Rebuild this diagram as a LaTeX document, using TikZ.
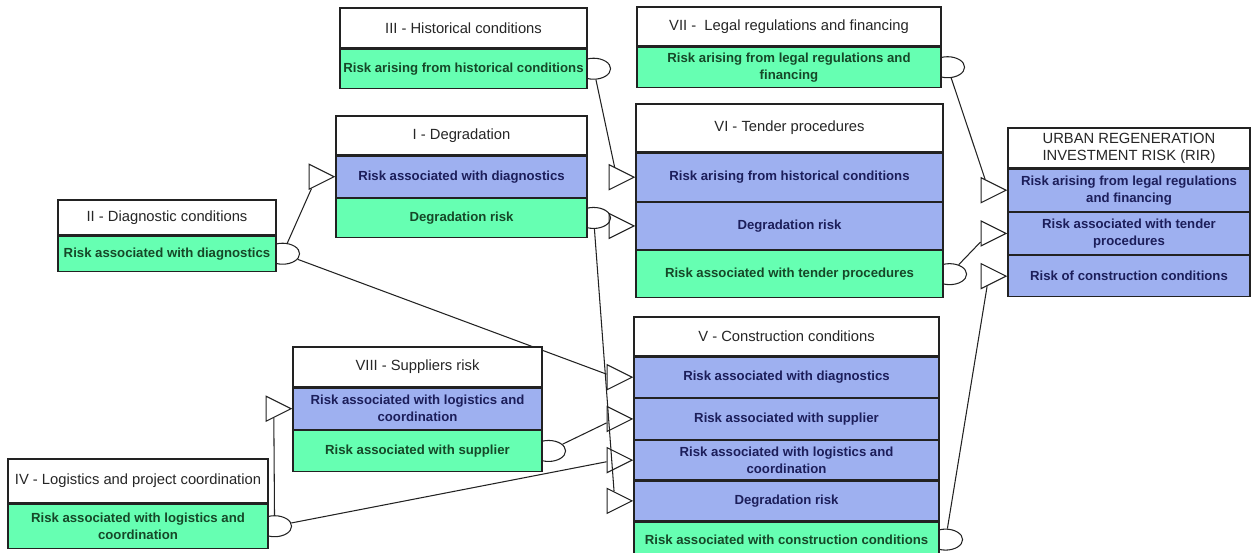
\documentclass[tikz,border=0pt]{standalone}
\usepackage{fontspec}
\setsansfont{Liberation Sans}
\usetikzlibrary{shapes.geometric,positioning,backgrounds}
\definecolor{riskgreen}{RGB}{102,255,178}
\definecolor{riskblue}{RGB}{158,176,240}
\definecolor{textgreen}{RGB}{22,72,40}
\definecolor{textblue}{RGB}{28,30,90}
\definecolor{boxline}{RGB}{34,34,34}

\begin{document}
\begin{tikzpicture}[x=0.02cm, y=-0.02cm,
  titlebox/.style={draw=boxline, line width=0.7pt, fill=white, align=center, inner xsep=0.5pt, inner ysep=1pt, text=black!85, font=\sffamily\fontsize{8.4}{9.6}\selectfont},
  outrow/.style={titlebox, fill=riskgreen, text=textgreen, font=\sffamily\bfseries\fontsize{7.5}{9.6}\selectfont},
  inrow/.style={outrow, fill=riskblue, text=textblue},
  outport/.style={draw=boxline, ellipse, line width=0.6pt, minimum width=0.68cm, minimum height=0.42cm, inner sep=0pt},
  inport/.style={draw=boxline, isosceles triangle, isosceles triangle stretches, line width=0.6pt, minimum width=0.5cm, minimum height=0.5cm, inner sep=0pt, anchor=apex},
  wire/.style={draw=boxline, line width=0.6pt}]
  \useasboundingbox (0,0) rectangle (1254,553);

  % III - Historical conditions
  \node[titlebox, minimum width=4.94cm, minimum height=0.8cm] (hist) at (463.5,28) {III - Historical conditions};
  \node[outrow, minimum width=4.94cm, minimum height=0.78cm, below=0pt of hist] (histout) {Risk arising from historical conditions};

  % VII - Legal regulations
  \node[titlebox, minimum width=6.08cm, minimum height=0.78cm] (legal) at (789,26.5) {VII - \ Legal regulations and financing};
  \node[outrow, minimum width=6.08cm, minimum height=0.8cm, below=0pt of legal] (legalout) {Risk arising from legal regulations and\\financing};

  % I - Degradation
  \node[titlebox, minimum width=5.02cm, minimum height=0.78cm] (degr) at (461.5,135.5) {I - Degradation};
  \node[inrow, minimum width=5.02cm, minimum height=0.82cm, below=0pt of degr] (degrin) {Risk associated with diagnostics};
  \node[outrow, minimum width=5.02cm, minimum height=0.78cm, below=0pt of degrin] (degrout) {Degradation risk};

  % II - Diagnostic conditions
  \node[titlebox, minimum width=4.36cm, minimum height=0.7cm] (diag) at (167,217.5) {II - Diagnostic conditions};
  \node[outrow, minimum width=4.36cm, minimum height=0.7cm, below=0pt of diag] (diagout) {Risk associated with diagnostics};

  % VI - Tender procedures
  \node[titlebox, minimum width=6.14cm, minimum height=0.96cm] (tend) at (789.5,128) {VI - Tender procedures};
  \node[inrow, minimum width=6.14cm, minimum height=0.96cm, below=0pt of tend] (tendin1) {Risk arising from historical conditions};
  \node[inrow, minimum width=6.14cm, minimum height=0.94cm, below=0pt of tendin1] (tendin2) {Degradation risk};
  \node[outrow, minimum width=6.14cm, minimum height=0.94cm, below=0pt of tendin2] (tendout) {Risk associated with tender procedures};

  % Urban regeneration investment risk
  \node[titlebox, minimum width=4.84cm, minimum height=0.8cm] (rir) at (1129,148) {URBAN REGENERATION\\INVESTMENT RISK (RIR)};
  \node[inrow, minimum width=4.84cm, minimum height=0.84cm, below=0pt of rir] (ririn1) {Risk arising from legal regulations\\and financing};
  \node[inrow, minimum width=4.84cm, minimum height=0.84cm, below=0pt of ririn1] (ririn2) {Risk associated with tender\\procedures};
  \node[inrow, minimum width=4.84cm, minimum height=0.82cm, below=0pt of ririn2] (ririn3) {Risk of construction conditions};

  % VIII - Suppliers risk
  \node[titlebox, minimum width=4.98cm, minimum height=0.8cm] (supp) at (417.5,367) {VIII - Suppliers risk};
  \node[inrow, minimum width=4.98cm, minimum height=0.82cm, below=0pt of supp] (suppin) {Risk associated with logistics and\\coordination};
  \node[outrow, minimum width=4.98cm, minimum height=0.82cm, below=0pt of suppin] (suppout) {Risk associated with supplier};

  % IV - Logistics and project coordination
  \node[titlebox, minimum width=5.2cm, minimum height=0.88cm] (logi) at (138,481) {IV - Logistics and project coordination};
  \node[outrow, minimum width=5.2cm, minimum height=0.88cm, below=0pt of logi] (logiout) {Risk associated with logistics and\\coordination};

  % V - Construction conditions
  \node[titlebox, minimum width=6.1cm, minimum height=0.78cm] (cons) at (786.5,336.5) {V - Construction conditions};
  \node[inrow, minimum width=6.1cm, minimum height=0.8cm, below=0pt of cons] (consin1) {Risk associated with diagnostics};
  \node[inrow, minimum width=6.1cm, minimum height=0.82cm, below=0pt of consin1] (consin2) {Risk associated with supplier};
  \node[inrow, minimum width=6.1cm, minimum height=0.78cm, below=0pt of consin2] (consin3) {Risk associated with logistics and\\coordination};
  \node[inrow, minimum width=6.1cm, minimum height=0.8cm, below=0pt of consin3] (consin4) {Degradation risk};
  \node[outrow, minimum width=6.1cm, minimum height=0.7cm, below=0pt of consin4] (consout) {Risk associated with construction conditions};

  % Input ports
  \node[inport] (tdegrin) at (degrin.west) {};
  \node[inport] (ttendin1) at (tendin1.west) {};
  \node[inport] (ttendin2) at (tendin2.west) {};
  \node[inport] (tririn1) at (ririn1.west) {};
  \node[inport] (tririn2) at (ririn2.west) {};
  \node[inport] (tririn3) at (ririn3.west) {};
  \node[inport] (tsuppin) at (suppin.west) {};
  \node[inport] (tconsin1) at (consin1.west) {};
  \node[inport] (tconsin2) at (consin2.west) {};
  \node[inport] (tconsin3) at (consin3.west) {};
  \node[inport] (tconsin4) at (consin4.west) {};

  \begin{scope}[on background layer]
    % Output ports (half hidden behind the boxes)
    \node[outport] (ehistout) at ([xshift=0.12cm]histout.east) {};
    \node[outport] (elegalout) at ([xshift=0.12cm]legalout.east) {};
    \node[outport] (edegrout) at ([xshift=0.12cm]degrout.east) {};
    \node[outport] (ediagout) at ([xshift=0.12cm]diagout.east) {};
    \node[outport] (etendout) at ([xshift=0.12cm]tendout.east) {};
    \node[outport] (esuppout) at ([xshift=0.12cm]suppout.east) {};
    \node[outport] (elogiout) at ([xshift=0.12cm]logiout.east) {};
    \node[outport] (econsout) at ([xshift=0.12cm]consout.east) {};

    % Links
    \draw[wire] (ediagout) -- (tdegrin);
    \draw[wire] (ediagout) -- (tconsin1);
    \draw[wire] (ehistout) -- (ttendin1);
    \draw[wire] (edegrout) -- (ttendin2);
    \draw[wire] (edegrout) -- (tconsin4);
    \draw[wire] (elegalout) -- (tririn1);
    \draw[wire] (etendout) -- (tririn2);
    \draw[wire] (econsout) -- (tririn3);
    \draw[wire] (esuppout) -- (tconsin2);
    \draw[wire] (elogiout) -- (tsuppin);
    \draw[wire] (elogiout) -- (tconsin3);
  \end{scope}
\end{tikzpicture}
\end{document}
